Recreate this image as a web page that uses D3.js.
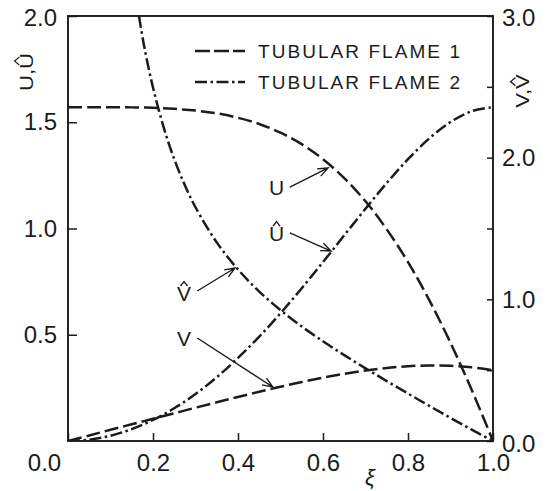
<!DOCTYPE html>
<html>
<head>
<meta charset="utf-8">
<script src="https://cdn.jsdelivr.net/npm/d3@7/dist/d3.min.js"></script>
<style>
  html, body { margin: 0; padding: 0; background: #fff; }
  svg { display: block; font-family: "Liberation Sans", Arial, sans-serif; }
</style>
</head>
<body>
<div id="chart"></div>
<script>
// values
const xi = [0, 0.05, 0.1, 0.15, 0.2, 0.25, 0.3, 0.35, 0.4, 0.45, 0.5, 0.55, 0.6, 0.65, 0.7, 0.75, 0.8, 0.85, 0.9, 0.95, 1.0]
const uFlame1 = [1.571, 1.571, 1.571, 1.570, 1.568, 1.563, 1.555, 1.542, 1.521, 1.492, 1.451, 1.397, 1.326, 1.237, 1.128, 0.996, 0.842, 0.663, 0.462, 0.240, 0]
const vFlame1 = [0, 0.039, 0.079, 0.118, 0.157, 0.196, 0.235, 0.273, 0.311, 0.348, 0.383, 0.416, 0.447, 0.474, 0.497, 0.515, 0.528, 0.533, 0.531, 0.520, 0.5]
const uFlame2 = [0, 0.006, 0.025, 0.056, 0.099, 0.154, 0.221, 0.300, 0.391, 0.491, 0.601, 0.719, 0.842, 0.968, 1.093, 1.214, 1.326, 1.424, 1.501, 1.552, 1.571]
const xiV2 = [0.167, 0.18, 0.2, 0.225, 0.25, 0.275, 0.3, 0.35, 0.4, 0.45, 0.5, 0.55, 0.6, 0.65, 0.7, 0.75, 0.8, 0.85, 0.9, 0.95, 1.0]
const vFlame2 = [3.0, 2.774, 2.495, 2.215, 1.990, 1.805, 1.650, 1.402, 1.211, 1.055, 0.924, 0.808, 0.704, 0.606, 0.513, 0.423, 0.335, 0.248, 0.163, 0.080, 0]

const xTicks = [0, 0.2, 0.4, 0.6, 0.8, 1.0]
const leftTicks = [0.5, 1.0, 1.5, 2.0]
const rightTicks = [0, 0.5, 1.0, 1.5, 2.0, 2.5, 3.0]
const legendLabels = ['TUBULAR FLAME 1', 'TUBULAR FLAME 2']

// arrow annotations, in data units (axis: which y scale)
const notes = [
  { text: 'U', hat: false, axis: 'left', label: [0.4906, 1.158], from: [0.522, 1.195], to: [0.612, 1.285] },
  { text: 'U', hat: true, axis: 'left', label: [0.4906, 0.941], from: [0.522, 0.979], to: [0.619, 0.894] },
  { text: 'V', hat: true, axis: 'right', label: [0.273, 0.988], from: [0.304, 1.059], to: [0.393, 1.221] },
  { text: 'V', hat: false, axis: 'right', label: [0.273, 0.671], from: [0.304, 0.727], to: [0.482, 0.381] }
]

const width = 549
const height = 491
const ink = '#1c1c1c'
const dashed = '14,5'
const dashDot = '12,3.5,2.5,3.5'

const svg = d3.select('#chart').append('svg')
  .attr('width', width)
  .attr('height', height)

const x = d3.scaleLinear().domain([0, 1]).range([68, 493])
const yL = d3.scaleLinear().domain([0, 2]).range([441, 16])
const yR = d3.scaleLinear().domain([0, 3]).range([441, 16])

svg.append('defs').append('clipPath').attr('id', 'plot-clip')
  .append('rect')
  .attr('x', x(0)).attr('y', yL(2))
  .attr('width', x(1) - x(0)).attr('height', yL(0) - yL(2))

// axes (ticks point inward)
const fmt = d3.format('.1f')
const xAxis = svg.append('g')
  .attr('transform', `translate(0,${yL(0)})`)
  .call(d3.axisBottom(x).tickValues(xTicks).tickSize(-8).tickPadding(13).tickFormat(fmt))
const leftAxis = svg.append('g')
  .attr('transform', `translate(${x(0)},0)`)
  .call(d3.axisLeft(yL).tickValues(leftTicks).tickSize(-9).tickPadding(11).tickFormat(fmt))
const rightAxis = svg.append('g')
  .attr('transform', `translate(${x(1)},0)`)
  .call(d3.axisRight(yR).tickValues(rightTicks).tickSize(-6).tickPadding(9)
    .tickFormat(d => d % 1 === 0 ? fmt(d) : ''))

;[xAxis, leftAxis, rightAxis].forEach(g => {
  g.select('.domain').remove()
  g.selectAll('line').attr('stroke', ink).attr('stroke-width', 1.5)
  g.selectAll('text')
    .attr('fill', ink)
    .style('font-size', '24px')
    .style('font-family', '"Liberation Sans", Arial, sans-serif')
})
// the 0.0 of the x axis sits left of the corner
xAxis.selectAll('.tick').filter(d => d === 0).select('text').attr('dx', -24)
rightAxis.selectAll('.tick').filter(d => d === 0).select('text').attr('dy', '0.45em')
rightAxis.selectAll('.tick').filter(d => d === 3).select('text').attr('dy', '0.38em')
leftAxis.selectAll('.tick').filter(d => d === 2).select('text').attr('dy', '0.4em')

// frame
svg.append('rect')
  .attr('x', x(0)).attr('y', yL(2))
  .attr('width', x(1) - x(0)).attr('height', yL(0) - yL(2))
  .attr('fill', 'none')
  .attr('stroke', ink)
  .attr('stroke-width', 1.9)

// curves
const curves = [
  { xs: xi, ys: uFlame1, y: yL, dash: dashed },
  { xs: xi, ys: vFlame1, y: yR, dash: dashed },
  { xs: xi, ys: uFlame2, y: yL, dash: dashDot },
  { xs: xiV2, ys: vFlame2, y: yR, dash: dashDot }
]
const plot = svg.append('g').attr('clip-path', 'url(#plot-clip)')
curves.forEach(c => {
  const line = d3.line()
    .x(i => x(c.xs[i]))
    .y(i => c.y(c.ys[i]))
    .curve(d3.curveCatmullRom)
  plot.append('path')
    .attr('d', line(d3.range(c.xs.length)))
    .attr('fill', 'none')
    .attr('stroke', ink)
    .attr('stroke-width', 2.5)
    .attr('stroke-dasharray', c.dash)
})

// legend
const legend = svg.append('g')
legendLabels.forEach((label, i) => {
  const ly = 51 + i * 31
  legend.append('line')
    .attr('x1', 195).attr('x2', 245)
    .attr('y1', ly).attr('y2', ly)
    .attr('stroke', ink)
    .attr('stroke-width', 2.5)
    .attr('stroke-dasharray', i === 0 ? '15,4' : dashDot)
  legend.append('text')
    .attr('x', 258).attr('y', ly + 6.5)
    .attr('textLength', 202)
    .attr('lengthAdjust', 'spacing')
    .attr('fill', ink)
    .style('font-size', '19px')
    .text(label)
})

// small circumflex above a glyph box
function addHat (g, box, gap, w, h) {
  const cx = box.x + box.width / 2
  const top = box.y + box.height * 0.2 - gap
  g.append('path')
    .attr('d', `M${cx - w / 2},${top}L${cx},${top - h}L${cx + w / 2},${top}`)
    .attr('fill', 'none')
    .attr('stroke', ink)
    .attr('stroke-width', 1.4)
}

// annotations
const notesG = svg.append('g')
notes.forEach(n => {
  const y = n.axis === 'left' ? yL : yR
  const t = notesG.append('text')
    .attr('x', x(n.label[0]))
    .attr('y', y(n.label[1]))
    .attr('text-anchor', 'middle')
    .attr('fill', ink)
    .style('font-size', '21px')
    .text(n.text)
  if (n.hat) addHat(notesG, t.node().getBBox(), 0.5, 7, 4.5)

  const x1 = x(n.from[0]), y1 = y(n.from[1])
  const x2 = x(n.to[0]), y2 = y(n.to[1])
  const a = Math.atan2(y2 - y1, x2 - x1)
  const len = 11, spread = 0.38
  notesG.append('path')
    .attr('d', `M${x1},${y1}L${x2},${y2}` +
      `M${x2 - len * Math.cos(a - spread)},${y2 - len * Math.sin(a - spread)}L${x2},${y2}` +
      `L${x2 - len * Math.cos(a + spread)},${y2 - len * Math.sin(a + spread)}`)
    .attr('fill', 'none')
    .attr('stroke', ink)
    .attr('stroke-width', 1.4)
})

// axis titles
function axisTitle (cx, cy, label) {
  const g = svg.append('g')
    .attr('transform', `translate(${cx},${cy}) rotate(-90) scale(1,0.8)`)
  const t = g.append('text')
    .attr('text-anchor', 'middle')
    .attr('fill', ink)
    .style('font-size', '22px')
    .text(label)
  const box = t.node().getExtentOfChar(2)
  addHat(g, box, 2, 8, 6)
}
axisTitle(33, 72, 'U,U')
axisTitle(529, 91, 'V,V')

svg.append('text')
  .attr('x', 370).attr('y', 485)
  .attr('text-anchor', 'middle')
  .attr('fill', ink)
  .style('font-size', '22px')
  .style('font-style', 'italic')
  .text('ξ')
</script>
</body>
</html>
